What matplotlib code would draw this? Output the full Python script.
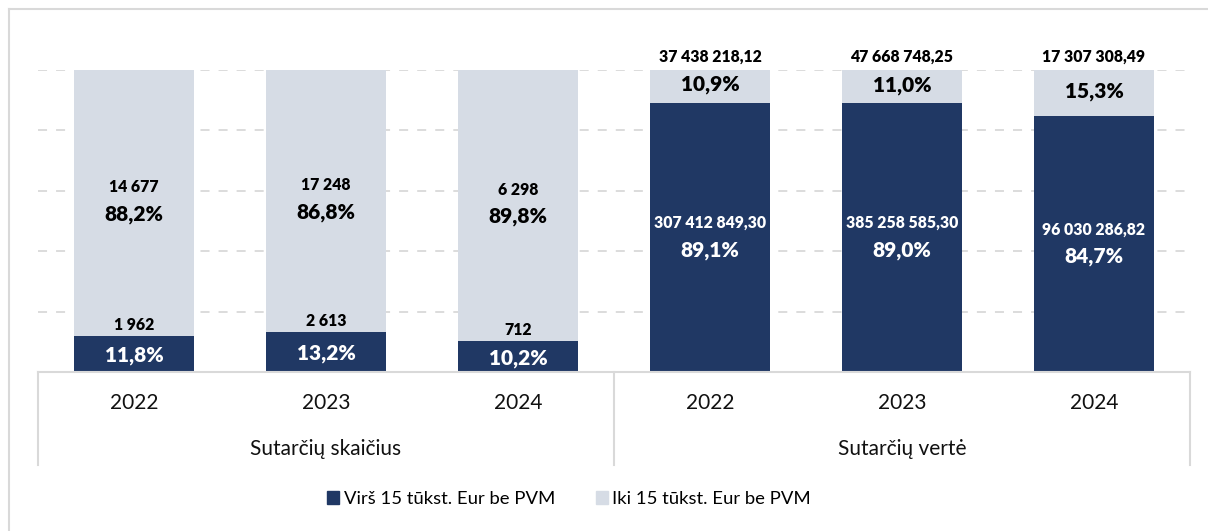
import matplotlib
matplotlib.use("Agg")
import matplotlib.pyplot as plt
from matplotlib.lines import Line2D
from matplotlib.patches import Rectangle

plt.rcParams['font.family'] = ['Lato', 'DejaVu Sans']

# ---- data ----
years = ["2022", "2023", "2024", "2022", "2023", "2024"]
groups = ["Sutarčių skaičius", "Sutarčių vertė"]
series_names = ["Virš 15 tūkst. Eur be PVM", "Iki 15 tūkst. Eur be PVM"]
over_pct = [11.8, 13.2, 10.2, 89.1, 89.0, 84.7]
under_pct = [88.2, 86.8, 89.8, 10.9, 11.0, 15.3]
over_labels = ["1 962", "2 613", "712", "307 412 849,30", "385 258 585,30", "96 030 286,82"]
under_labels = ["14 677", "17 248", "6 298", "37 438 218,12", "47 668 748,25", "17 307 308,49"]

NAVY = "#203864"
LIGHT = "#D6DCE5"
GRID = "#D9D9D9"

W, H = 1208, 531
fig = plt.figure(figsize=(W / 100, H / 100), dpi=100)

def fx(px):
    return px / W

def fy(py):
    return 1 - py / H

NUMW = 'heavy'
PCTW = 'heavy'

ax = fig.add_axes([fx(38), fy(372), fx(1190) - fx(38), fy(70) - fy(372)])
x = list(range(len(years)))
bw = 0.625
ax.bar(x, over_pct, width=bw, color=NAVY, zorder=3)
ax.bar(x, under_pct, width=bw, bottom=over_pct, color=LIGHT, zorder=3)
ax.set_xlim(-0.5, len(years) - 0.5)
ax.set_ylim(0, 100)
for gy in [20, 40, 60, 80, 100]:
    ax.axhline(gy, color=GRID, lw=1.3, ls=(0, (5, 5)), zorder=1)
for s in ax.spines.values():
    s.set_visible(False)
ax.set_xticks([])
ax.set_yticks([])

def pct(v):
    return f"{v:.1f}%".replace('.', ',')

for i in range(len(years)):
    o, u = over_pct[i], under_pct[i]
    # bottom segment
    if o > 30:
        c = o / 2
        ax.text(i, c + 4.8, over_labels[i], ha='center', va='center', color='white',
                fontsize=11.3, fontweight=NUMW, zorder=5)
        ax.text(i, c - 4.2, pct(o), ha='center', va='center',
                color='white', fontsize=15, fontweight=PCTW, zorder=5)
    else:
        ax.text(i, o / 2 - 0.5, pct(o), ha='center', va='center',
                color='white', fontsize=15, fontweight=PCTW, zorder=5)
        ax.text(i, o + 1.0, over_labels[i], ha='center', va='bottom', color='black',
                fontsize=11.3, fontweight=NUMW, zorder=5)
    # top segment
    c = o + u / 2
    if u > 30:
        ax.text(i, c + 5.3, under_labels[i], ha='center', va='center', color='black',
                fontsize=11.3, fontweight=NUMW, zorder=5)
        ax.text(i, c - 3.7, pct(u), ha='center', va='center',
                color='black', fontsize=15, fontweight=PCTW, zorder=5)
    else:
        ax.text(i, c + 0.5, pct(u), ha='center', va='center',
                color='black', fontsize=15, fontweight=PCTW, zorder=5)
        ax.text(i, 100 + 1.8, under_labels[i], ha='center', va='bottom', color='black',
                fontsize=11.3, fontweight=NUMW, zorder=5)

# category axis (multi-level)
fig.add_artist(Line2D([fx(38), fx(1190)], [fy(372), fy(372)], color=GRID, lw=1.5))
for px in [38, 614, 1190]:
    fig.add_artist(Line2D([fx(px), fx(px)], [fy(372), fy(465)], color=GRID, lw=1.5))
for i, yr in enumerate(years):
    xc = ax.transData.transform((i, 0))[0] / W
    fig.text(xc, fy(403), yr, ha='center', va='center', fontsize=15, color='#111111')
for g, name in enumerate(groups):
    xc = (ax.transData.transform((g * 3 + 1, 0))[0]) / W
    fig.text(xc, fy(449), name, ha='center', va='center', fontsize=15, color='#111111')

# legend
handles = [Rectangle((0, 0), 1, 1, color=NAVY), Rectangle((0, 0), 1, 1, color=LIGHT)]
fig.legend(handles, series_names, loc='center', bbox_to_anchor=(fx(569), fy(499)),
           ncol=2, frameon=False, fontsize=13.3, handlelength=0.65, handleheight=0.65,
           handletextpad=0.25, columnspacing=2.2)

# outer frame (left and top visible)
fig.add_artist(Line2D([fx(9), fx(9)], [fy(9), 0], color=GRID, lw=1.5))
fig.add_artist(Line2D([fx(9), 1], [fy(9), fy(9)], color=GRID, lw=1.5))

fig.savefig("out.png", dpi=100)
